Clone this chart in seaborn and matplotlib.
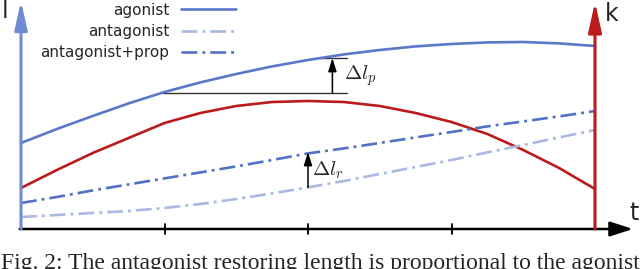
import numpy as np
import pandas as pd
import matplotlib
matplotlib.use("Agg")
import matplotlib.pyplot as plt
import seaborn as sns

# ---- data (values in length units) ----
t_pts = [0.0, 0.25, 0.5, 0.75, 1.0, 1.25, 1.5, 1.75, 2.0,
         2.25, 2.5, 2.75, 3.0, 3.25, 3.5, 3.75, 4.0]
agonist = [4.3, 5.0, 5.65, 6.28, 6.85, 7.33, 7.75, 8.13, 8.45,
           8.73, 8.95, 9.13, 9.25, 9.33, 9.35, 9.28, 9.15]
stiffness = [2.05, 2.95, 3.8, 4.55, 5.3, 5.8, 6.15, 6.35, 6.4,
             6.35, 6.15, 5.8, 5.35, 4.75, 3.95, 3.05, 2.0]
antagonist = [0.6, 0.7, 0.8, 0.9, 1.05, 1.25, 1.5, 1.78, 2.08,
              2.4, 2.75, 3.1, 3.45, 3.83, 4.2, 4.58, 4.95]
antagonist_prop = [1.3, 1.6, 1.93, 2.23, 2.53, 2.83, 3.13, 3.45, 3.78,
                   4.03, 4.3, 4.58, 4.85, 5.13, 5.38, 5.63, 5.9]
tick_pos = [1, 2, 3]
dlp_t, dlp_lo, dlp_hi = 2.17, 6.8, 8.55
dlr_t, dlr_lo, dlr_hi = 2.0, 2.08, 3.85

sns.set_theme(style="white")
plt.rcParams['font.family'] = ['DejaVu Sans']
plt.rcParams['mathtext.fontset'] = 'cm'

fig = plt.figure(figsize=(6.4, 2.69), dpi=100)
ax = fig.add_axes([0, 0, 1, 1])
ax.set_xlim(-21 / 143.5, 619 / 143.5)
ax.set_ylim(-2.0, 11.45)
ax.axis('off')

BLUE = "#5A78C8"
LIGHT = "#AAB9E2"
PROP = "#5270C4"
RED = "#BC1B1B"
AXBLUE = "#6F8CD2"

df = pd.DataFrame({"t": t_pts, "agonist": agonist, "k": stiffness,
                   "antagonist": antagonist, "antagonist+prop": antagonist_prop})

sns.lineplot(data=df, x="t", y="k", ax=ax, color=RED, lw=1.9, zorder=3)
sns.lineplot(data=df, x="t", y="agonist", ax=ax, color=BLUE, lw=1.9,
             label="agonist", zorder=3)
sns.lineplot(data=df, x="t", y="antagonist", ax=ax, color=LIGHT, lw=1.9,
             label="antagonist", zorder=3)
sns.lineplot(data=df, x="t", y="antagonist+prop", ax=ax, color=PROP, lw=1.9,
             label="antagonist+prop", zorder=3)
lines = ax.get_lines()
for ln in lines[2:4]:
    ln.set_dashes([6.0, 1.9, 1.1, 1.9])
ax.set_xlabel("")
ax.set_ylabel("")

# axes arrows
ax.annotate("", xy=(0, 11.4), xytext=(0, 0.0),
            arrowprops=dict(arrowstyle="-|>,head_length=1.7,head_width=0.38",
                            mutation_scale=10, lw=2.2, color=AXBLUE,
                            shrinkA=0, shrinkB=0), zorder=4)
ax.annotate("", xy=(4, 11.35), xytext=(4, 0.0),
            arrowprops=dict(arrowstyle="-|>,head_length=1.8,head_width=0.4",
                            mutation_scale=10, lw=2.2, color=RED,
                            shrinkA=0, shrinkB=0), zorder=4)
ax.annotate("", xy=(612 / 143.5, 0), xytext=(-0.01, 0),
            arrowprops=dict(arrowstyle="-|>,head_length=1.4,head_width=0.45",
                            mutation_scale=10, lw=1.8, color="black",
                            shrinkA=0, shrinkB=0), zorder=2)
for tp in tick_pos:
    ax.plot([tp, tp], [-0.25, 0.25], color="black", lw=1.3, zorder=2)

ax.text(-0.135, 10.9, "l", fontsize=17, ha="left", va="center")
ax.text(4.07, 10.75, "k", fontsize=17, ha="left", va="center")
ax.text(4.27, 0.8, "t", fontsize=17, ha="center", va="center")

# delta l_p
ax.plot([0.99, 2.27], [dlp_lo, dlp_lo], color="#333333", lw=1.0, zorder=2)
ax.plot([2.08, 2.27], [dlp_hi, dlp_hi], color="#333333", lw=1.0, zorder=2)
ax.annotate("", xy=(dlp_t, dlp_hi), xytext=(dlp_t, dlp_lo),
            arrowprops=dict(arrowstyle="-|>,head_length=0.8,head_width=0.25",
                            mutation_scale=10, lw=1.1, color="black",
                            shrinkA=0, shrinkB=0))
ax.text(2.25, 7.65, r"$\Delta l_p$", fontsize=15, ha="left", va="center")
# delta l_r
ax.annotate("", xy=(dlr_t, dlr_hi), xytext=(dlr_t, dlr_lo),
            arrowprops=dict(arrowstyle="-|>,head_length=0.8,head_width=0.25",
                            mutation_scale=10, lw=1.1, color="black",
                            shrinkA=0, shrinkB=0))
ax.text(2.03, 2.95, r"$\Delta l_r$", fontsize=15, ha="left", va="center")

leg = ax.legend(loc="upper right", bbox_to_anchor=(238 / 640, 1.0 - 1 / 269),
                frameon=False, markerfirst=False, fontsize=11,
                handlelength=3.6, handletextpad=0.8, labelspacing=0.42,
                borderaxespad=0, borderpad=0.1)

fig.text(1 / 640, 0.5 / 269,
         "Fig. 2: The antagonist restoring length is proportional to the agonist",
         fontsize=17, family=["Liberation Serif"], ha="left", va="baseline")

fig.savefig("out.png", dpi=100)
